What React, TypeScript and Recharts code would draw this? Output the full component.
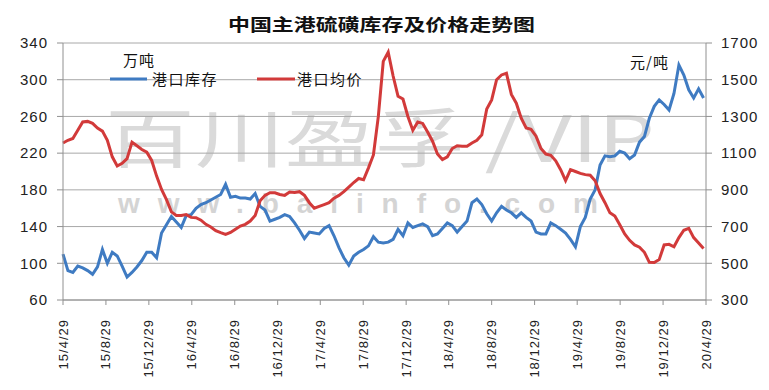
import { LineChart, Line, XAxis, YAxis, CartesianGrid } from 'recharts'

// weekly samples (every 14 days) starting 2015-04-29
const startDate = Date.UTC(2015, 3, 29)

// 港口库存, 万吨
const stock = [
  110, 92, 90, 97, 95, 92, 88, 96, 115, 100, 112, 108, 97, 85, 90, 96, 103, 112, 112, 106,
  133, 142, 151, 145, 139, 152, 153, 160, 164, 166, 169, 172, 175, 186, 172, 173, 171, 171, 170, 176,
  162, 158, 146, 148, 150, 153, 151, 144, 136, 127, 134, 133, 132, 138, 141, 130, 117, 106, 98, 108,
  112, 115, 119, 129, 123, 122, 123, 126, 137, 130, 144, 139, 141, 143, 140, 130, 132, 138, 144, 141,
  134, 140, 146, 166, 170, 164, 154, 146, 155, 162, 158, 155, 150, 155, 150, 146, 134, 132, 132, 144,
  141, 137, 133, 126, 118, 140, 150, 170, 180, 207, 217, 216, 217, 222, 220, 214, 218, 232, 238, 258,
  271, 278, 273, 267, 285, 316, 305, 289, 280, 290, 280,
]

// 港口均价, 元/吨
const price = [
  1155, 1170, 1180, 1225, 1270, 1273, 1262, 1237, 1220, 1170, 1080, 1030, 1045, 1070, 1160, 1140, 1120, 1105, 1060, 975,
  902, 847, 780, 760, 760, 765, 750, 748, 735, 712, 698, 678, 667, 657, 668, 686, 703, 712, 730, 760,
  840, 870, 884, 884, 875, 870, 888, 886, 890, 870, 830, 800, 810, 820, 830, 855, 870, 890, 915, 940,
  962, 955, 1020, 1090, 1300, 1600, 1650, 1520, 1410, 1395, 1300, 1225, 1270, 1262, 1215, 1165, 1095, 1065, 1080, 1125,
  1140, 1137, 1137, 1155, 1170, 1200, 1340, 1390, 1500, 1526, 1535, 1420, 1372, 1290, 1237, 1230, 1192, 1125, 1095, 1088,
  1058, 1010, 950, 1010, 1000, 990, 983, 980, 950, 880, 830, 775, 757, 710, 660, 625, 600, 588, 560, 505,
  504, 520, 600, 603, 590, 640, 680, 690, 640, 610, 580,
]

const xLabels = [
  '15/4/29', '15/8/29', '15/12/29', '16/4/29', '16/8/29', '16/12/29', '17/4/29', '17/8/29',
  '17/12/29', '18/4/29', '18/8/29', '18/12/29', '19/4/29', '19/8/29', '19/12/29', '20/4/29',
]
const leftTicks = [60, 100, 140, 180, 220, 260, 300, 340]
const rightTicks = [300, 500, 700, 900, 1100, 1300, 1500, 1700]

const labelToDay = (s: string) => {
  const [y, m, d] = s.split('/').map(Number)
  return Math.round((Date.UTC(2000 + y, m - 1, d) - startDate) / 86400000)
}
const tickDays = xLabels.map(labelToDay)
const lastDay = tickDays[tickDays.length - 1]

const data = stock.map((s, i) => ({ day: i * 14, stock: s, price: price[i] }))

const FONT = '"Liberation Sans", Arial, "Noto Sans CJK SC", sans-serif'
const CJK = '"Noto Sans CJK SC", "Liberation Sans", sans-serif'

const XTick = ({ x, y, payload }: any) => {
  const idx = tickDays.indexOf(payload.value)
  return (
    <g transform={`translate(${x},${y})`}>
      <text
        transform="rotate(-90)"
        x={-12}
        y={0}
        dy={4.5}
        textAnchor="end"
        fontSize={13}
        letterSpacing={1}
        fill="#222"
        fontFamily={FONT}
      >
        {idx >= 0 ? xLabels[idx] : ''}
      </text>
    </g>
  )
}

export default function App() {
  const axisTick = { fontSize: 15, fill: '#222', fontFamily: FONT, letterSpacing: 1 }
  return (
    <div style={{ position: 'relative', width: 769, height: 390, margin: '-8px 0 0 -8px', background: '#fff' }}>
      {/* watermark */}
      <svg width={769} height={390} style={{ position: 'absolute', left: 0, top: 0 }}>
        <text x={105} y={162} fontSize={64} fill="#dadada" fontFamily={CJK} textLength={550} lengthAdjust="spacingAndGlyphs">
          百川盈孚 /VIP
        </text>
        <text x={118} y={213} fontSize={28} fontWeight="bold" fill="#d4d4d4" fontFamily={FONT} textLength={480} lengthAdjust="spacing">
          www.baiinfo.com
        </text>
      </svg>
      <div style={{ position: 'absolute', left: 0, top: 0 }}>
        <LineChart width={769} height={390} data={data} margin={{ top: 43, right: 8, bottom: 0, left: 13 }}>
          <CartesianGrid yAxisId="left" vertical={false} stroke="#a8a8a8" />
          <XAxis
            dataKey="day"
            type="number"
            domain={[0, lastDay]}
            ticks={tickDays}
            interval={0}
            height={90}
            tick={<XTick />}
            tickSize={5}
            stroke="#909090"
          />
          <YAxis
            yAxisId="left"
            domain={[60, 340]}
            ticks={leftTicks}
            width={50}
            tickSize={6}
            tickMargin={9}
            tick={axisTick}
            stroke="#909090"
          />
          <YAxis
            yAxisId="right"
            orientation="right"
            domain={[300, 1700]}
            ticks={rightTicks}
            width={55}
            tickSize={6}
            tickMargin={9}
            tick={{ ...axisTick, textAnchor: 'start' }}
            stroke="#909090"
          />
          <Line
            yAxisId="left"
            dataKey="stock"
            name="港口库存"
            stroke="#3F7BC2"
            strokeWidth={3}
            dot={false}
            isAnimationActive={false}
          />
          <Line
            yAxisId="right"
            dataKey="price"
            name="港口均价"
            stroke="#D23A3A"
            strokeWidth={3}
            dot={false}
            isAnimationActive={false}
          />
        </LineChart>
      </div>
      {/* title, units and legend */}
      <svg width={769} height={100} style={{ position: 'absolute', left: 0, top: 0, pointerEvents: 'none' }}>
        <text x={228} y={31} fontSize={17} fontWeight="bold" fill="#111" fontFamily={CJK} textLength={307} lengthAdjust="spacingAndGlyphs">
          中国主港硫磺库存及价格走势图
        </text>
        <text x={123} y={66} fontSize={15} fill="#111" fontFamily={CJK} letterSpacing={1}>万吨</text>
        <text x={630} y={68} fontSize={15} fill="#111" fontFamily={CJK} letterSpacing={1}>元/吨</text>
        <line x1={110} y1={79} x2={147} y2={79} stroke="#3F7BC2" strokeWidth={3} />
        <text x={152} y={85} fontSize={15} fill="#111" fontFamily={CJK} letterSpacing={1.5}>港口库存</text>
        <line x1={257} y1={79} x2={295} y2={79} stroke="#D23A3A" strokeWidth={3} />
        <text x={297} y={85} fontSize={15} fill="#111" fontFamily={CJK} letterSpacing={1.5}>港口均价</text>
      </svg>
    </div>
  )
}
